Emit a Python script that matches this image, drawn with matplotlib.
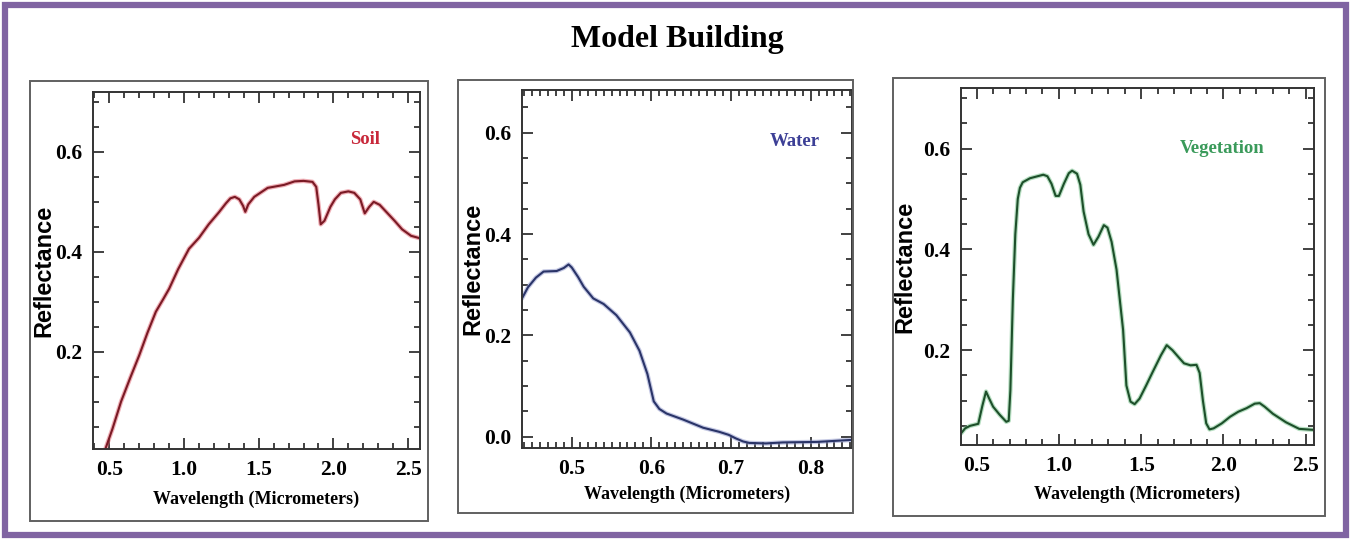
import numpy as np
import matplotlib.pyplot as plt
from matplotlib.patches import Rectangle
from matplotlib.ticker import MultipleLocator

plt.rcParams['font.family'] = ['Liberation Serif', 'DejaVu Serif']

W, H = 1351, 540

# spectral curves (wavelength in micrometers, reflectance)
soil_wl = [0.467, 0.52, 0.578, 0.64, 0.70, 0.755, 0.811, 0.86, 0.90, 0.96,
           1.033, 1.10, 1.165, 1.233, 1.28, 1.31, 1.34, 1.37, 1.395, 1.41, 1.43,
           1.47, 1.56, 1.67, 1.74, 1.80, 1.86, 1.885, 1.90, 1.915, 1.94, 1.98,
           2.01, 2.05, 2.10, 2.14, 2.18, 2.21, 2.24, 2.27, 2.31, 2.36, 2.41,
           2.46, 2.52, 2.58]
soil_rf = [0.0, 0.045, 0.1, 0.148, 0.193, 0.238, 0.28, 0.305, 0.326, 0.365,
           0.406, 0.428, 0.455, 0.479, 0.497, 0.507, 0.51, 0.505, 0.492, 0.48,
           0.495, 0.51, 0.528, 0.534, 0.541, 0.542, 0.540, 0.53, 0.495, 0.455,
           0.462, 0.49, 0.505, 0.518, 0.521, 0.518, 0.505, 0.477, 0.49, 0.50,
           0.494, 0.478, 0.462, 0.445, 0.432, 0.427]

water_wl = [0.4375, 0.445, 0.455, 0.4646, 0.481, 0.49, 0.496, 0.50, 0.508,
            0.515, 0.527, 0.54, 0.556, 0.573, 0.585, 0.595, 0.603, 0.61, 0.619,
            0.64, 0.665, 0.685, 0.697, 0.706, 0.715, 0.723, 0.744, 0.765,
            0.808, 0.852]
water_rf = [0.273, 0.295, 0.314, 0.326, 0.327, 0.333, 0.340, 0.334, 0.315,
            0.296, 0.273, 0.262, 0.240, 0.206, 0.170, 0.124, 0.070, 0.055,
            0.046, 0.034, 0.018, 0.010, 0.004, -0.003, -0.009, -0.012, -0.013,
            -0.011, -0.010, -0.006]

veg_wl = [0.405, 0.43, 0.46, 0.51, 0.535, 0.557, 0.575, 0.60, 0.64, 0.68,
          0.695, 0.705, 0.72, 0.735, 0.75, 0.763, 0.78, 0.824, 0.87, 0.905,
          0.93, 0.955, 0.98, 1.0, 1.03, 1.06, 1.08, 1.11, 1.13, 1.15, 1.18,
          1.21, 1.24, 1.273, 1.295, 1.32, 1.35, 1.37, 1.39, 1.41, 1.435, 1.46,
          1.49, 1.53, 1.57, 1.62, 1.655, 1.69, 1.73, 1.76, 1.80, 1.836, 1.855,
          1.875, 1.895, 1.915, 1.94, 1.99, 2.04, 2.09, 2.14, 2.19, 2.22, 2.25,
          2.30, 2.38, 2.46, 2.55]
veg_rf = [0.035, 0.045, 0.05, 0.054, 0.09, 0.118, 0.105, 0.088, 0.072, 0.058,
          0.06, 0.12, 0.30, 0.43, 0.50, 0.522, 0.533, 0.541, 0.545, 0.548,
          0.545, 0.53, 0.506, 0.506, 0.53, 0.551, 0.556, 0.55, 0.528, 0.475,
          0.43, 0.409, 0.425, 0.448, 0.443, 0.415, 0.36, 0.30, 0.24, 0.13,
          0.098, 0.093, 0.104, 0.13, 0.157, 0.19, 0.21, 0.2, 0.185, 0.174,
          0.17, 0.171, 0.155, 0.1, 0.055, 0.043, 0.045, 0.055, 0.068, 0.078,
          0.085, 0.094, 0.095, 0.088, 0.074, 0.057, 0.044, 0.042]

soil_xticks = [0.5, 1.0, 1.5, 2.0, 2.5]
water_xticks = [0.5, 0.6, 0.7, 0.8]
veg_xticks = [0.5, 1.0, 1.5, 2.0, 2.5]
soil_yticks = [0.2, 0.4, 0.6]
water_yticks = [0.0, 0.2, 0.4, 0.6]
veg_yticks = [0.2, 0.4, 0.6]


def fig_rect(l, t, r, b):
    return [l / W, 1 - b / H, (r - l) / W, (b - t) / H]


fig = plt.figure(figsize=(W / 100, H / 100), dpi=100)

# purple page border
fig.patches.append(Rectangle((5.5 / W, 5 / H), (W - 11) / W, (H - 10) / H,
                             transform=fig.transFigure, fill=False,
                             edgecolor='#8064a2', linewidth=4.5))
fig.text(677 / W, 1 - 40 / H, 'Model Building', ha='center', va='center',
         fontsize=23, fontweight='bold')

panels = [
    dict(frame=(30, 81, 428, 521), ax=(93, 92, 420, 449),
         wl=soil_wl, rf=soil_rf, xlim=(0.39, 2.58), ylim=(0.005, 0.72),
         xticks=soil_xticks, yticks=soil_yticks, xminor=0.1,
         name='Soil', name_xy=(365, 140), name_c='#c8283a',
         line_c='#7a1a25', glow_c='#e0606e',
         ylab_x=44, xlab_y=499),
    dict(frame=(458, 80, 853, 513), ax=(522, 90, 852, 448),
         wl=water_wl, rf=water_rf, xlim=(0.4375, 0.852), ylim=(-0.022, 0.684),
         xticks=water_xticks, yticks=water_yticks, xminor=0.01,
         name='Water', name_xy=(795, 142), name_c='#3c3f96',
         line_c='#2a3468', glow_c='#8a92c8',
         ylab_x=473, xlab_y=494),
    dict(frame=(893, 78, 1325, 516), ax=(961, 88, 1314, 445),
         wl=veg_wl, rf=veg_rf, xlim=(0.405, 2.55), ylim=(0.012, 0.72),
         xticks=veg_xticks, yticks=veg_yticks, xminor=0.1,
         name='Vegetation', name_xy=(1222, 148), name_c='#3a9a5a',
         line_c='#1d4f2a', glow_c='#6fbf85',
         ylab_x=905, xlab_y=494),
]

for p in panels:
    l, t, r, b = p['frame']
    fig.patches.append(Rectangle((l / W, 1 - b / H), (r - l) / W, (b - t) / H,
                                 transform=fig.transFigure, fill=False,
                                 edgecolor='#606060', linewidth=1.4))
    ax = fig.add_axes(fig_rect(*p['ax']))
    ax.plot(p['wl'], p['rf'], color=p['glow_c'], lw=3.2, alpha=0.5,
            solid_capstyle='round', solid_joinstyle='round')
    ax.plot(p['wl'], p['rf'], color=p['line_c'], lw=1.5,
            solid_joinstyle='round')
    ax.set_xlim(*p['xlim'])
    ax.set_ylim(*p['ylim'])
    ax.set_xticks(p['xticks'])
    ax.set_xticklabels([f'{v:.1f}' for v in p['xticks']])
    ax.set_yticks(p['yticks'])
    ax.set_yticklabels([f'{v:.1f}' for v in p['yticks']])
    ax.xaxis.set_minor_locator(MultipleLocator(p['xminor']))
    ax.yaxis.set_minor_locator(MultipleLocator(0.05))
    ax.tick_params(which='both', direction='in', top=True, right=True,
                   width=1.3, color='#333333')
    ax.tick_params(which='major', length=8, labelsize=15.5, pad=8)
    ax.tick_params(which='minor', length=4)
    for lab in ax.get_xticklabels() + ax.get_yticklabels():
        lab.set_fontweight('bold')
    for s in ax.spines.values():
        s.set_linewidth(1.4)
        s.set_color('#333333')

    nx, ny = p['name_xy']
    fig.text(nx / W, 1 - ny / H, p['name'], ha='center', va='center',
             fontsize=13.5, fontweight='bold', color=p['name_c'])
    al, at, ar, ab = p['ax']
    fig.text(p['ylab_x'] / W, 1 - (at + ab) / 2 / H, 'Reflectance',
             rotation=90, ha='center', va='center', fontsize=17,
             fontweight='bold', family=['Liberation Sans', 'DejaVu Sans'])
    fig.text((al + ar) / 2 / W, 1 - p['xlab_y'] / H, 'Wavelength (Micrometers)',
             ha='center', va='center', fontsize=13, fontweight='bold')

fig.savefig('out.png', dpi=100)
